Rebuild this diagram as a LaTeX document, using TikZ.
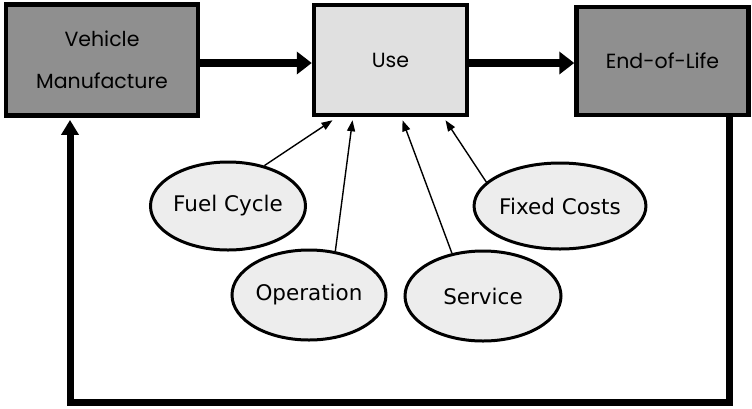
\documentclass[tikz,border=0pt]{standalone}
\usepackage{fontspec}
\setmainfont{DejaVu Sans}
\newfontfamily\boxfont{Poppins}
\usetikzlibrary{arrows.meta,shapes.geometric}
\definecolor{boxdark}{gray}{0.56}
\definecolor{boxlight}{gray}{0.88}
\definecolor{elllight}{gray}{0.93}
\tikzset{
  x=1pt, y=-1pt,
  stagebox/.style={draw=black, line width=4.5pt, rectangle, inner sep=0pt, font=\boxfont\fontsize{20.5}{24}\selectfont, align=center},
  factor/.style={draw=black, line width=3pt, ellipse, inner sep=0pt, fill=elllight, font=\fontsize{21.5}{24}\selectfont},
  flow/.style={line width=8pt, -{Triangle[length=15pt,width=22pt]}},
  feed/.style={line width=7pt, line join=miter, -{Triangle[length=15pt,width=17pt]}},
  contrib/.style={line width=1.4pt, -{Triangle[length=11pt,width=8pt]}}
}
\begin{document}
\begin{tikzpicture}
\useasboundingbox (0,0) rectangle (752,408);
\fill[white] (0,0) rectangle (752,408);
\node[stagebox, fill=boxdark, minimum width=192pt, minimum height=111pt] (vm) at (102,60) {Vehicle\\[18pt]Manufacture};
\node[stagebox, fill=boxlight, minimum width=153pt, minimum height=110pt] (use) at (390.5,60) {Use};
\node[stagebox, fill=boxdark, minimum width=172pt, minimum height=108pt] (eol) at (662.5,61) {End-of-Life};
\node[factor, minimum width=152pt, minimum height=88pt] (fuel) at (228,206) {Fuel Cycle};
\node[factor, minimum width=154pt, minimum height=90pt] (oper) at (309,295) {Operation};
\node[factor, minimum width=156pt, minimum height=90pt] (serv) at (483,296) {Service};
\node[factor, minimum width=151pt, minimum height=86pt] (fixed) at (560,206) {Fixed Costs};
\draw[flow] (vm.east |- 0,63) -- (use.west |- 0,63);
\draw[flow] (use.east |- 0,63) -- (eol.west |- 0,63);
\coordinate (c1) at (729,402);
\coordinate (c2) at (70,402);
\draw[feed] (eol.south -| c1) -- (c1) -- (c2) -- ([yshift=-2.2pt]vm.south -| c2);
\draw[contrib] (fuel.48) -- ([xshift=-58pt,yshift=-3pt]use.south);
\draw[contrib] (oper.59) -- ([xshift=-38pt,yshift=-3pt]use.south);
\draw[contrib] (serv.126) -- ([xshift=12pt,yshift=-3pt]use.south);
\draw[contrib] (fixed.162) -- ([xshift=55pt,yshift=-3pt]use.south);
\end{tikzpicture}
\end{document}
